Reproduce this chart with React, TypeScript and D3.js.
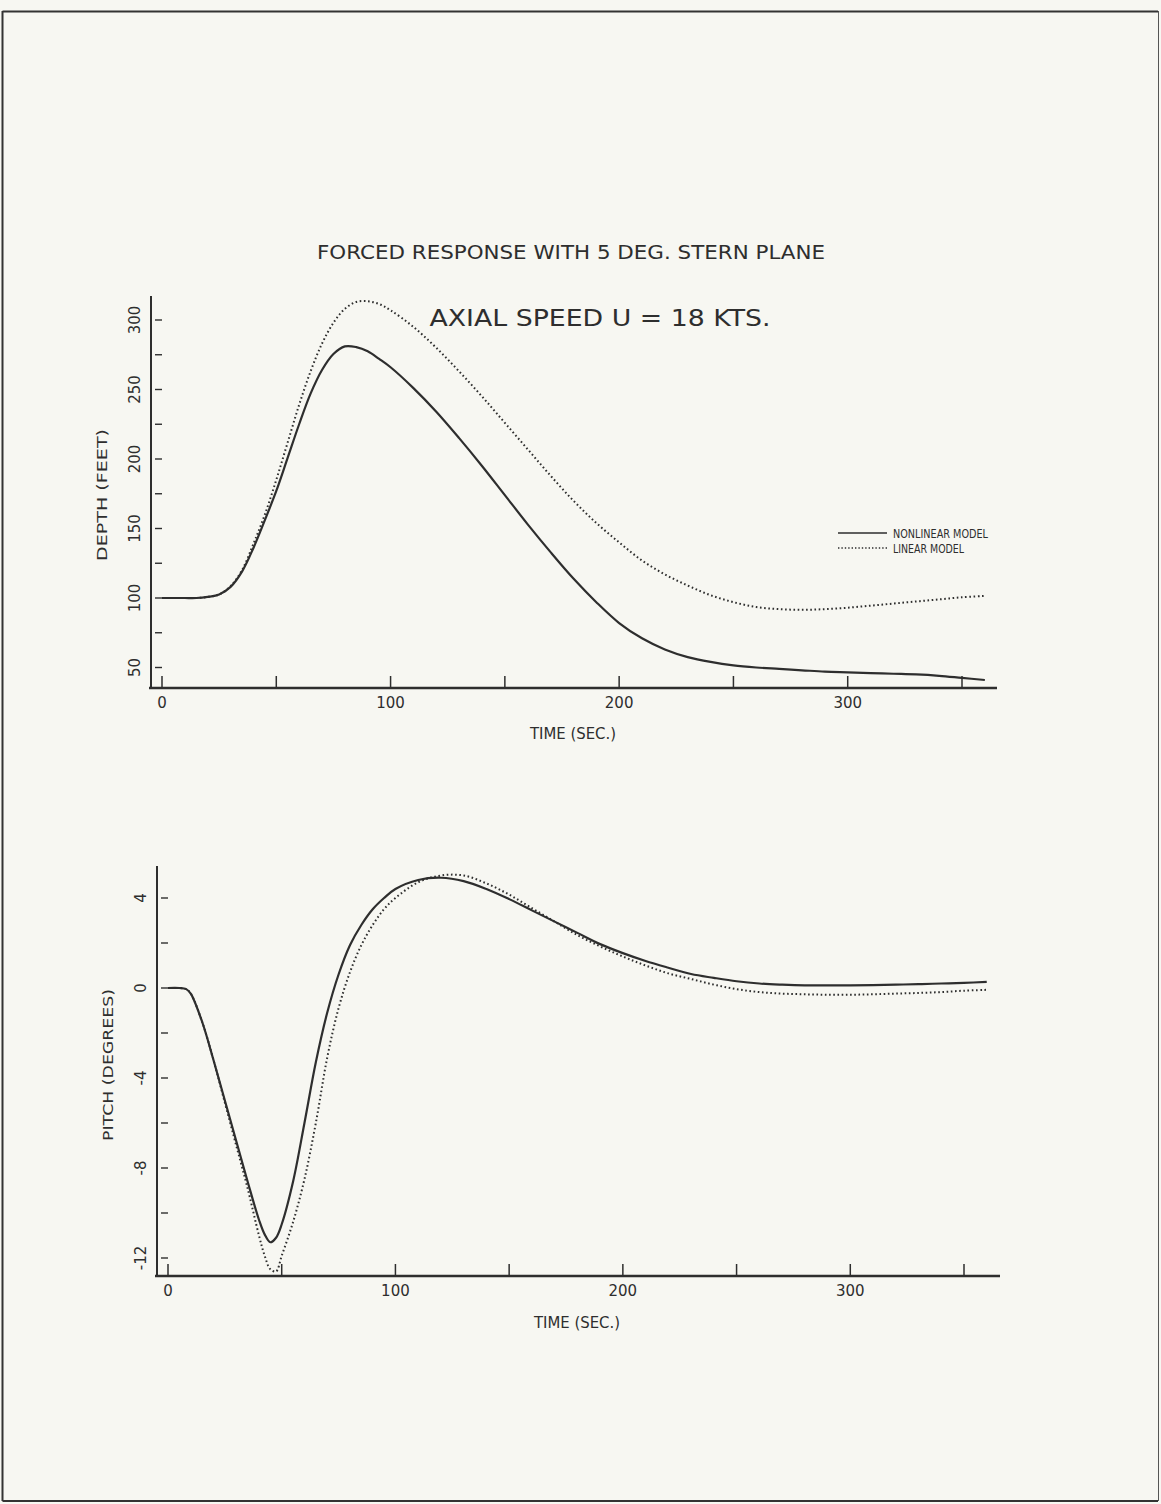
import React from 'react';
import * as d3 from 'd3';

const timeSec = [0,5,10,15,20,25,30,35,40,45,50,55,60,65,70,75,80,85,90,95,100,110,120,130,140,150,160,170,180,190,200,210,220,230,240,250,260,270,280,290,300,310,320,330,340,350,360];
const depthNonlinear = [100,100,100,100,100.8,102.5,108,119,136,156,177,201,225,247,264,275.5,281,280.5,277.5,272,266,251,234,215,195,174,153,133,114,97,82,71,63,57.5,54,51.5,50,49,48,47,46.5,46,45.5,45,44,42.5,41];
const depthLinear = [100,100,100,100,100.8,102.5,108.5,120,139,160,185,212,239,263,283,298,308,313,313.5,311.5,307,295,280,263,245,226,207,188,170,154,140,127,117,109,102,97,93.5,92,91.5,92,93,94.5,96,97.5,99,100.5,101.5];

const timePitch = [0,5,8,10,15,20,25,30,35,40,42.5,45,47.5,50,55,60,65,70,75,80,85,90,95,100,110,120,130,140,150,160,170,180,190,200,210,220,230,240,250,260,270,280,290,300,310,320,330,340,350,360];
const pitchNonlinear = [0,0,-0.05,-0.25,-1.5,-3.2,-5.0,-6.8,-8.6,-10.3,-10.95,-11.3,-11.1,-10.5,-8.6,-6.0,-3.3,-1.1,0.6,1.9,2.8,3.5,4.0,4.4,4.8,4.9,4.75,4.4,3.95,3.45,2.95,2.45,1.95,1.55,1.2,0.9,0.62,0.45,0.3,0.2,0.15,0.12,0.12,0.12,0.13,0.15,0.17,0.2,0.23,0.27];
const pitchLinear = [0,0,-0.05,-0.25,-1.5,-3.2,-5.1,-7.0,-8.9,-11.0,-11.9,-12.5,-12.6,-11.9,-10.4,-8.5,-6.0,-3.1,-0.9,0.7,1.9,2.8,3.5,4.0,4.7,5.0,5.0,4.65,4.15,3.55,2.95,2.35,1.85,1.4,1.0,0.65,0.4,0.15,-0.05,-0.18,-0.25,-0.28,-0.3,-0.3,-0.28,-0.25,-0.22,-0.18,-0.12,-0.08];

const timeTicks = [0,50,100,150,200,250,300,350];
const timeTickLabels = [0,100,200,300];
const depthTicks = [50,75,100,125,150,175,200,225,250,275,300];
const depthTickLabels = [50,100,150,200,250,300];
const pitchTicks = [-12,-10,-8,-6,-4,-2,0,2,4];
const pitchTickLabels = [-12,-8,-4,0,4];

const legendLabels = ['NONLINEAR MODEL', 'LINEAR MODEL'];

const INK = '#2e2e2e';
const FONT = 'DejaVu Sans, Liberation Sans, sans-serif';

type PanelProps = {
  xScale: d3.ScaleLinear<number, number>;
  yScale: d3.ScaleLinear<number, number>;
  axisX: number;
  axisY: number;
  axisTop: number;
  axisRight: number;
  yTicks: number[];
  yTickLabels: number[];
  yTitle: string;
  yTitleCenter: number;
  yTitleLen: number;
  xTitleX: number;
  xTitleY: number;
  times: number[];
  nonlinear: number[];
  linear: number[];
};

function Panel(p: PanelProps) {
  const line = d3
    .line<[number, number]>()
    .x((d) => p.xScale(d[0]))
    .y((d) => p.yScale(d[1]))
    .curve(d3.curveCatmullRom.alpha(0.5));
  const nl = line(p.times.map((t, i) => [t, p.nonlinear[i]] as [number, number])) || '';
  const ln = line(p.times.map((t, i) => [t, p.linear[i]] as [number, number])) || '';
  return (
    <g>
      <line x1={p.axisX} x2={p.axisX} y1={p.axisTop} y2={p.axisY} stroke={INK} strokeWidth={2} />
      <line x1={p.axisX - 2} x2={p.axisRight} y1={p.axisY} y2={p.axisY} stroke={INK} strokeWidth={2.4} />
      {timeTicks.map((t) => (
        <line key={'xt' + t} x1={p.xScale(t)} x2={p.xScale(t)} y1={p.axisY} y2={p.axisY - 12} stroke={INK} strokeWidth={1.5} />
      ))}
      {timeTickLabels.map((t) => (
        <text key={'xl' + t} x={p.xScale(t)} y={p.axisY + 20} textAnchor="middle" fontSize={15} fill={INK} fontFamily={FONT}>
          {t}
        </text>
      ))}
      {p.yTicks.map((v) => (
        <line key={'yt' + v} x1={p.axisX + 4} x2={p.axisX + 11} y1={p.yScale(v)} y2={p.yScale(v)} stroke={INK} strokeWidth={1.4} />
      ))}
      {p.yTickLabels.map((v) => (
        <text
          key={'yl' + v}
          transform={`translate(${p.axisX - 11},${p.yScale(v)}) rotate(-90)`}
          textAnchor="middle"
          fontSize={15}
          fill={INK}
          fontFamily={FONT}
        >
          {v}
        </text>
      ))}
      <text
        transform={`translate(${p.axisX - 44},${p.yTitleCenter}) rotate(-90)`}
        textAnchor="middle"
        fontSize={14}
        fill={INK}
        fontFamily={FONT}
        textLength={p.yTitleLen}
        lengthAdjust="spacingAndGlyphs"
      >
        {p.yTitle}
      </text>
      <text x={p.xTitleX} y={p.xTitleY} textAnchor="middle" fontSize={15} fill={INK} fontFamily={FONT} textLength={86} lengthAdjust="spacingAndGlyphs">
        TIME (SEC.)
      </text>
      <path d={ln} fill="none" stroke={INK} strokeWidth={2} strokeDasharray="1.6,2.6" />
      <path d={nl} fill="none" stroke={INK} strokeWidth={2.2} />
    </g>
  );
}

export default function App() {
  const W = 1161;
  const H = 1504;

  const xTop = d3.scaleLinear().domain([0, 350]).range([162, 962]);
  const yTop = d3.scaleLinear().domain([100, 300]).range([598, 320]);
  const xBot = d3.scaleLinear().domain([0, 350]).range([168, 964]);
  const yBot = d3.scaleLinear().domain([0, 4]).range([988, 898]);

  return (
    <svg
      width={W}
      height={H}
      viewBox={`0 0 ${W} ${H}`}
      style={{ position: 'absolute', left: 0, top: 0, background: '#f7f7f2' }}
    >
      <rect x={0} y={0} width={W} height={H} fill="#f7f7f2" />
      <line x1={2.5} x2={2.5} y1={11} y2={1501} stroke="#333" strokeWidth={2} />
      <line x1={2.5} x2={1158} y1={11.5} y2={11.5} stroke="#333" strokeWidth={2} />
      <line x1={2.5} x2={1158} y1={1501} y2={1501} stroke="#333" strokeWidth={2} />
      <line x1={1158.5} x2={1158.5} y1={11} y2={1501} stroke="#555" strokeWidth={1} />

      <text x={571} y={259} textAnchor="middle" fontSize={19} fill={INK} fontFamily={FONT} textLength={508} lengthAdjust="spacingAndGlyphs">
        FORCED RESPONSE WITH 5 DEG. STERN PLANE
      </text>
      <text x={600} y={326} textAnchor="middle" fontSize={23} fill={INK} fontFamily={FONT} textLength={341} lengthAdjust="spacingAndGlyphs">
        AXIAL SPEED U = 18 KTS.
      </text>

      <Panel
        xScale={xTop}
        yScale={yTop}
        axisX={151}
        axisY={688}
        axisTop={296}
        axisRight={997}
        yTicks={depthTicks}
        yTickLabels={depthTickLabels}
        yTitle="DEPTH (FEET)"
        yTitleCenter={495}
        yTitleLen={132}
        xTitleX={573}
        xTitleY={739}
        times={timeSec}
        nonlinear={depthNonlinear}
        linear={depthLinear}
      />

      <Panel
        xScale={xBot}
        yScale={yBot}
        axisX={157}
        axisY={1276}
        axisTop={866}
        axisRight={1000}
        yTicks={pitchTicks}
        yTickLabels={pitchTickLabels}
        yTitle="PITCH (DEGREES)"
        yTitleCenter={1065}
        yTitleLen={152}
        xTitleX={577}
        xTitleY={1328}
        times={timePitch}
        nonlinear={pitchNonlinear}
        linear={pitchLinear}
      />

      <g fontFamily={FONT} fontSize={12} fill={INK}>
        <line x1={838} x2={887} y1={533} y2={533} stroke={INK} strokeWidth={1.6} />
        <text x={893} y={538} textLength={95} lengthAdjust="spacingAndGlyphs">{legendLabels[0]}</text>
        <line x1={838} x2={887} y1={548} y2={548} stroke={INK} strokeWidth={1.6} strokeDasharray="1.4,2" />
        <text x={893} y={553} textLength={71} lengthAdjust="spacingAndGlyphs">{legendLabels[1]}</text>
      </g>
    </svg>
  );
}
